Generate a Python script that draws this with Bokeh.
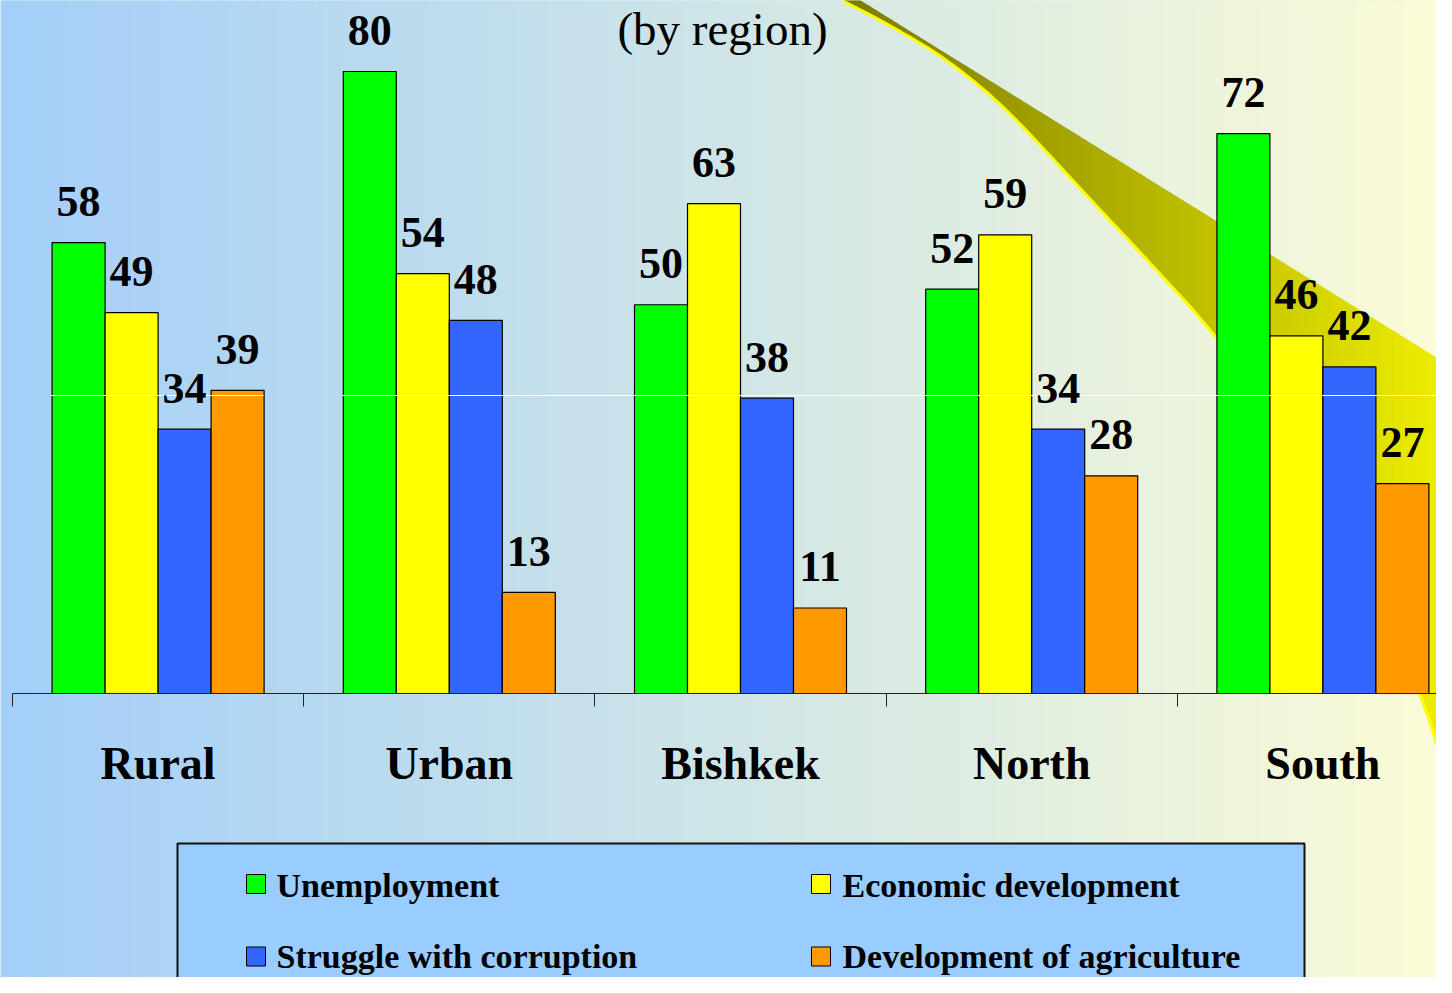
import numpy as np
from bokeh.plotting import figure
from bokeh.models import ColumnDataSource, LinearAxis, FixedTicker
from bokeh.core.properties import value
from bokeh.embed import file_html
from bokeh.resources import INLINE

# ---------------- data ----------------
regions = ["Rural", "Urban", "Bishkek", "North", "South"]
series = ["Unemployment", "Economic development",
          "Struggle with corruption", "Development of agriculture"]
unemployment = [58, 80, 50, 52, 72]
economic = [49, 54, 63, 59, 46]
corruption = [34, 48, 38, 34, 42]
agriculture = [39, 13, 11, 28, 27]
title_text = "(by region)"

colors = ["#00FF00", "#FFFF00", "#3366FF", "#FF9900"]
values = [unemployment, economic, corruption, agriculture]

# ---------------- layout helpers (picture pixels -> data) ----------------
W, H = 1436, 977
X0PX, CAT_PX = 12.0, 291.2
BASE_PX, UNIT_PX = 693.0, 7.775


def dx(px):
    return (np.asarray(px, dtype=float) - X0PX) / CAT_PX


def dy(py):
    return (BASE_PX - np.asarray(py, dtype=float)) / UNIT_PX


x_range = (float(dx(0)), float(dx(W)))
y_range = (float(dy(H)), float(dy(0)))

p = figure(width=W, height=H, x_range=x_range, y_range=y_range,
           x_axis_type=None, y_axis_type=None, toolbar_location=None,
           output_backend="svg", min_border=0)
p.outline_line_color = None
p.background_fill_color = "#CFE5E7"
p.border_fill_color = "#CFE5E7"
p.grid.visible = False

# ---------------- background gradient ----------------
c_left = np.array([163, 207, 249])
c_right = np.array([252, 252, 214])
edges = np.arange(0, 1460, 6)
bl, br, bc = [], [], []
for a in edges:
    t = min(max((a + 3) / 1452.0, 0), 1)
    c = (c_left + (c_right - c_left) * t).astype(int)
    bl.append(float(dx(a)))
    br.append(float(dx(a + 7)))
    bc.append("#%02x%02x%02x" % tuple(c))
p.quad(left=bl, right=br, bottom=y_range[0] - 5, top=y_range[1] + 5,
       fill_color=bc, line_color=None)

# ---------------- decorative arrow shape (smooth curve) ----------------
ctrl = np.array([(800, -25), (843, 0), (890, 25), (947, 60), (1007, 110), (1090, 198),
                 (1161, 274), (1215, 335), (1290, 434), (1360, 560), (1420, 693),
                 (1452, 793), (1480, 880), (1510, 980)], float)


def catmull(points, n=20):
    out = []
    for i in range(1, len(points) - 2):
        p0, p1, p2, p3 = points[i - 1], points[i], points[i + 1], points[i + 2]
        for t in np.linspace(0, 1, n, endpoint=False):
            t2, t3 = t * t, t * t * t
            out.append(0.5 * ((2 * p1) + (-p0 + p2) * t +
                              (2 * p0 - 5 * p1 + 4 * p2 - p3) * t2 +
                              (-p0 + 3 * p1 - 3 * p2 + p3) * t3))
    out.append(points[-2])
    return np.array(out)


curve = catmull(ctrl)
cx, cy = curve[:, 0], curve[:, 1]


def curve_y(x):
    return np.interp(x, cx, cy)


def upper_y(x):
    return 220 + 0.62 * (x - 1215)


sxs, sys_, scol = [], [], []
for a in np.arange(843, 1440, 3):
    b = a + 3.8
    g = int(np.clip(128 + (240 - 128) * (a - 870) / (1452 - 870), 120, 242))
    sxs.append(list(dx([a, b, b, a])))
    sys_.append(list(dy([upper_y(a), upper_y(b), curve_y(b), curve_y(a)])))
    scol.append("#%02x%02x00" % (g, g))
p.patches(xs=sxs, ys=sys_, fill_color=scol, line_color=None)
p.line(x=dx(cx - 1), y=dy(cy), line_color="#FFFF00", line_width=3)

# ---------------- bars ----------------
BW = 53 / 291.2
for j, (vals, col) in enumerate(zip(values, colors)):
    xs = [i + 0.5 + (j - 1.5) * BW for i in range(len(regions))]
    src = ColumnDataSource(dict(x=xs, top=vals))
    p.vbar(x="x", top="top", bottom=0, width=BW, source=src,
           fill_color=col, line_color="black", line_width=1.2)

# thin white line artefact
p.segment(x0=dx([50, 342]), y0=dy([395, 395]), x1=dx([263, 1460]), y1=dy([395, 395]),
          line_color="white", line_width=1)

for j, vals in enumerate(values):
    xs = [i + 0.5 + (j - 1.5) * BW for i in range(len(regions))]
    src = ColumnDataSource(dict(x=xs, y=vals, label=[str(v) for v in vals]))
    p.text(x="x", y="y", text="label", source=src, y_offset=-41,
           text_font=value("Liberation Serif"), text_font_style="bold",
           text_font_size="44px", text_align="center", text_baseline="alphabetic",
           text_color="black")

# ---------------- category axis ----------------
ax = LinearAxis(fixed_location=0, bounds=(0, len(regions)))
ax.ticker = FixedTicker(ticks=[i + 0.5 for i in range(len(regions))],
                        minor_ticks=list(range(len(regions) + 1)))
ax.major_label_overrides = {i + 0.5: r for i, r in enumerate(regions)}
ax.major_tick_line_color = None
ax.major_tick_out = 0
ax.major_tick_in = 0
ax.minor_tick_line_color = "#222222"
ax.minor_tick_in = 0
ax.minor_tick_out = 13
ax.axis_line_color = "#222222"
ax.axis_line_width = 1
ax.major_label_standoff = 31
ax.major_label_text_font = "Liberation Serif"
ax.major_label_text_font_style = "bold"
ax.major_label_text_font_size = "46px"
ax.major_label_text_color = "black"
p.add_layout(ax, "below")

# ---------------- legend (drawn) ----------------
p.quad(left=dx(177), right=dx(1304), top=dy(843), bottom=dy(1100),
       fill_color="#99CCFF", line_color="#111111", line_width=2)
lx_sq = dx([255.5, 820.5, 255.5, 820.5])
ly_sq = dy([883.5, 883.5, 956, 956])
p.scatter(x=lx_sq, y=ly_sq, marker="square", size=19,
          fill_color=colors, line_color="black", line_width=1)
p.text(x=dx([276, 842, 276, 842]), y=dy([885, 885, 956, 956]), text=series,
       text_font=value("Liberation Serif"), text_font_style="bold",
       text_font_size="34px", text_align="left", text_baseline="alphabetic",
       text_color="black")

# ---------------- title (kept fully inside the picture) ----------------
p.text(x=dx([722]), y=dy([28]), text=[title_text],
       text_font=value("Liberation Serif"), text_font_size="47px",
       text_align="center", text_baseline="alphabetic", text_color="black")

open("out.html", "w").write(file_html(p, INLINE))
